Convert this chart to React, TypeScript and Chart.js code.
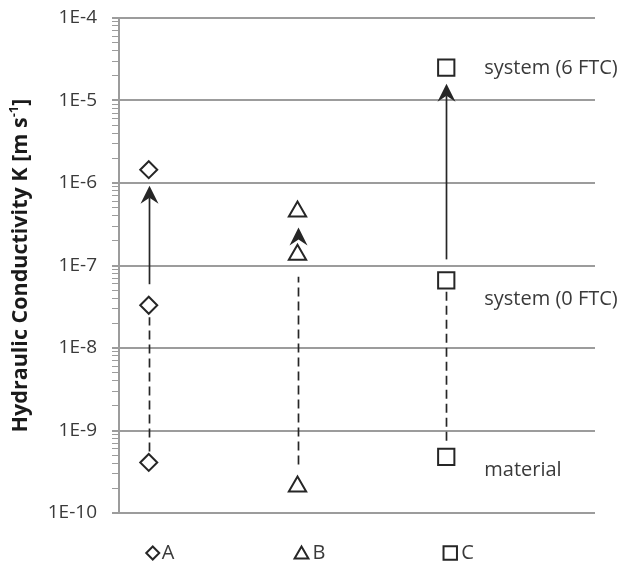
import React, { useEffect, useRef } from 'react';
import { Chart, registerables } from 'chart.js';

Chart.register(...registerables);

// ---- data ----
const categories = ['A', 'B', 'C'];
const categoryX = [1, 2, 3];
const materialK = [4.1e-10, 2.1e-10, 4.8e-10];
const system0K = [3.3e-8, 1.35e-7, 6.6e-8];
const system6K = [1.45e-6, 4.5e-7, 2.5e-5];
const yMajorValues = [1e-10, 1e-9, 1e-8, 1e-7, 1e-6, 1e-5, 1e-4];
const yTickLabels = ['1E-10', '1E-9', '1E-8', '1E-7', '1E-6', '1E-5', '1E-4'];
const stateLabels = ['material', 'system (0 FTC)', 'system (6 FTC)'];

// ---- styles ----
const pointStyles = ['rectRot', 'triangle', 'rect'];
const pointRadii = [8.5, 10, 11.5];
const legendRadii = [6.5, 8, 9.5];
const dashGapLow = [11, 22, 16];
const dashGapHigh = [12, 22, 7];
const FONT = '"Open Sans", "DejaVu Sans", sans-serif';
const MARK = '#262626';
const GRID = '#9c9c9c';
const TEXT = '#3a3a3a';

const isMajor = (v: number) => Math.abs(Math.log10(v) - Math.round(Math.log10(v))) < 1e-6;

function drawMarker(ctx: CanvasRenderingContext2D, style: string, x: number, y: number, r: number) {
  ctx.beginPath();
  if (style === 'rectRot') {
    ctx.moveTo(x, y - r);
    ctx.lineTo(x + r, y);
    ctx.lineTo(x, y + r);
    ctx.lineTo(x - r, y);
  } else if (style === 'triangle') {
    ctx.moveTo(x, y - r);
    ctx.lineTo(x + r * Math.sin((2 * Math.PI) / 3), y - r * Math.cos((2 * Math.PI) / 3));
    ctx.lineTo(x - r * Math.sin((2 * Math.PI) / 3), y - r * Math.cos((2 * Math.PI) / 3));
  } else {
    const s = Math.SQRT1_2 * r;
    ctx.rect(x - s, y - s, 2 * s, 2 * s);
  }
  ctx.closePath();
  ctx.fill();
  ctx.stroke();
}

const overlay = {
  id: 'overlay',
  beforeDatasetsDraw(chart: any) {
    const { ctx, scales } = chart;
    const xs = scales.x;
    const ys = scales.y;
    ctx.save();
    ctx.strokeStyle = MARK;
    ctx.fillStyle = MARK;
    ctx.lineWidth = 1.7;
    categories.forEach((_, i) => {
      const x = Math.round(xs.getPixelForValue(categoryX[i])) + 0.5;
      const yMat = ys.getPixelForValue(materialK[i]);
      const y0 = ys.getPixelForValue(system0K[i]);
      const y6 = ys.getPixelForValue(system6K[i]);
      // dashed: material -> system (0 FTC)
      ctx.setLineDash([9, 5]);
      ctx.beginPath();
      ctx.moveTo(x, yMat - dashGapLow[i]);
      ctx.lineTo(x, y0 + dashGapHigh[i]);
      ctx.stroke();
      ctx.setLineDash([]);
      // arrow: system (0 FTC) -> system (6 FTC)
      const tip = y6 + 16;
      const headLen = 18;
      const start = y0 - 21;
      if (start > tip + headLen - 6) {
        ctx.beginPath();
        ctx.moveTo(x, start);
        ctx.lineTo(x, tip + headLen - 6);
        ctx.stroke();
      }
      ctx.beginPath();
      ctx.moveTo(x, tip);
      ctx.lineTo(x - 9, tip + headLen);
      ctx.lineTo(x, tip + headLen - 6);
      ctx.lineTo(x + 9, tip + headLen);
      ctx.closePath();
      ctx.fill();
    });
    ctx.restore();
  },
  afterDraw(chart: any) {
    const { ctx, scales } = chart;
    const xs = scales.x;
    const ys = scales.y;
    ctx.save();
    // state labels next to C
    const cx = xs.getPixelForValue(categoryX[2]);
    const labelVals = [materialK[2], system0K[2], system6K[2]];
    const labelDy = [13, 19, 1];
    ctx.font = `20px ${FONT}`;
    ctx.fillStyle = TEXT;
    ctx.textAlign = 'left';
    ctx.textBaseline = 'middle';
    stateLabels.forEach((t, i) => {
      ctx.fillText(t, cx + 38, ys.getPixelForValue(labelVals[i]) + labelDy[i]);
    });
    // legend
    const ly = 553;
    categories.forEach((c, i) => {
      const px = xs.getPixelForValue(categoryX[i]);
      const mx = px + 4;
      ctx.strokeStyle = MARK;
      ctx.fillStyle = '#ffffff';
      ctx.lineWidth = 2;
      drawMarker(ctx, pointStyles[i], mx, ly + (pointStyles[i] === 'triangle' ? 1.5 : 0), legendRadii[i]);
      ctx.fillStyle = TEXT;
      ctx.font = `20px ${FONT}`;
      ctx.textAlign = 'left';
      ctx.textBaseline = 'middle';
      ctx.fillText(c, mx + (i === 0 ? 9 : 11), ly);
    });
    // y title with superscript
    ctx.fillStyle = '#1a1a1a';
    ctx.translate(21, (chart.chartArea.top + chart.chartArea.bottom) / 2);
    ctx.rotate(-Math.PI / 2);
    const main = 'Hydraulic Conductivity K [m s';
    const sup = '-1';
    const end = ']';
    ctx.font = `bold 21.5px ${FONT}`;
    const w1 = ctx.measureText(main).width;
    const w3 = ctx.measureText(end).width;
    ctx.font = `bold 13px ${FONT}`;
    const w2 = ctx.measureText(sup).width;
    const total = w1 + w2 + w3;
    let xpos = -total / 2;
    ctx.textAlign = 'left';
    ctx.textBaseline = 'middle';
    ctx.font = `bold 21.5px ${FONT}`;
    ctx.fillText(main, xpos, 0);
    xpos += w1;
    ctx.font = `bold 13px ${FONT}`;
    ctx.fillText(sup, xpos, -7);
    xpos += w2;
    ctx.font = `bold 21.5px ${FONT}`;
    ctx.fillText(end, xpos, 0);
    ctx.restore();
  },
};

export default function App() {
  const ref = useRef<HTMLCanvasElement | null>(null);
  useEffect(() => {
    if (!ref.current) return;
    const datasets = categories.map((c, i) => ({
      label: c,
      data: [
        { x: categoryX[i], y: materialK[i] },
        { x: categoryX[i], y: system0K[i] },
        { x: categoryX[i], y: system6K[i] },
      ],
      showLine: false,
      pointStyle: pointStyles[i] as any,
      pointRadius: pointRadii[i],
      pointHoverRadius: pointRadii[i],
      pointBorderWidth: 2,
      pointBackgroundColor: '#ffffff',
      pointBorderColor: MARK,
    }));
    const chart = new Chart(ref.current, {
      type: 'scatter',
      data: { datasets },
      plugins: [overlay],
      options: {
        animation: false,
        responsive: false,
        layout: { padding: { top: 18, right: 24, bottom: 52, left: 0 } },
        plugins: { legend: { display: false }, tooltip: { enabled: false }, title: { display: false } },
        scales: {
          x: { type: 'linear', min: 0.8, max: 4.0, display: false },
          y: {
            type: 'logarithmic',
            min: 1e-10,
            max: 1e-4,
            afterFit: (s: any) => {
              s.width = 119;
              s.paddingTop = 0;
              s.paddingBottom = 0;
            },
            afterBuildTicks: (s: any) => {
              const t: any[] = [];
              for (let e = -10; e <= -4; e++) {
                for (let m = 1; m <= 9; m++) {
                  if (e === -4 && m > 1) break;
                  t.push({ value: m * Math.pow(10, e) });
                }
              }
              s.ticks = t;
            },
            border: { display: true, color: GRID, width: 2 },
            grid: {
              drawTicks: true,
              tickLength: 7,
              color: (ctx: any) => (ctx.tick && isMajor(ctx.tick.value) ? GRID : 'rgba(0,0,0,0)'),
              lineWidth: (ctx: any) => (ctx.tick && isMajor(ctx.tick.value) ? 2 : 1),
              tickColor: GRID,
              tickWidth: (ctx: any) => (ctx.tick && isMajor(ctx.tick.value) ? 2 : 1),
            },
            ticks: {
              autoSkip: false,
              padding: 15,
              color: TEXT,
              font: { family: FONT, size: 19 },
              callback: (v: any) => {
                const n = Number(v);
                if (!isMajor(n)) return '';
                const idx = yMajorValues.findIndex((m) => Math.abs(Math.log10(m) - Math.log10(n)) < 1e-6);
                return idx >= 0 ? yTickLabels[idx] : '';
              },
            },
          },
        },
      },
    });
    return () => chart.destroy();
  }, []);
  return (
    <div style={{ position: 'fixed', left: 0, top: 0, width: 619, height: 565, background: '#fff' }}>
      <canvas ref={ref} width={619} height={565} style={{ display: 'block' }} />
    </div>
  );
}
